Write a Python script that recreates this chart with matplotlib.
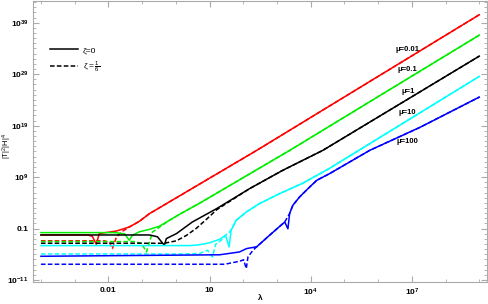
import numpy as np
import matplotlib
matplotlib.use("Agg")
import matplotlib.pyplot as plt

# log10(lambda), log10(|T|^2|H|^4), per mu and zeta
red_s_x = [-4.0, -2.62, -2.475, -2.36, -2.27, -1.76, -1.38, -1.08, -0.78, 2.40, 9.0]
red_s_y = [-2.24, -2.24, -2.50, -4.05, -1.97, -1.47, -0.69, 0.42, 1.91, 14.20, 40.55]
red_d_x = [-4.0, -2.12, -1.97, -1.88, -1.76, -1.58, -1.38, -1.08, -0.78, 2.40, 9.0]
red_d_y = [-3.37, -3.37, -3.66, -4.88, -2.63, -1.52, -0.69, 0.42, 1.91, 14.20, 40.55]

green_s_x = [-4.0, -1.82, -1.52, -1.38, -1.29, -1.08, -0.78, -0.49, -0.19, 0.11, 0.70, 3.38, 9.0]
green_s_y = [-1.78, -1.78, -2.01, -3.27, -2.30, -1.62, -1.14, -0.55, 0.61, 1.78, 3.91, 14.20, 36.59]
green_d_x = [-4.0, -1.23, -1.02, -0.87, -0.69, -0.49, -0.19, 0.11, 0.70, 3.38, 9.0]
green_d_y = [-3.52, -3.52, -3.85, -5.54, -1.66, -0.75, 0.61, 1.78, 3.91, 14.20, 36.59]

black_s_x = [-4.0, -0.78, -0.545, -0.34, -0.28, 0.02, 0.49, 1.21, 2.19, 3.17, 4.36, 9.0]
black_s_y = [-2.24, -2.24, -2.59, -4.24, -2.94, -1.97, 0.28, 2.88, 6.77, 10.32, 14.20, 32.51]
black_d_x = [-4.0, -0.34, 0.02, 0.32, 0.61, 0.91, 1.21, 2.19, 3.17, 4.36, 9.0]
black_d_y = [-3.85, -3.85, -3.37, -2.30, -0.94, 0.81, 2.65, 6.77, 10.32, 14.20, 32.51]

cyan_s_x = [-4.0, 0.41, 0.70, 1.00, 1.30, 1.475, 1.58, 1.64, 1.79, 2.09, 2.48, 3.08, 3.76, 4.56, 9.0]
cyan_s_y = [-4.30, -4.30, -4.15, -3.76, -3.08, -2.30, -4.57, -1.33, 0.61, 2.22, 3.85, 5.80, 7.80, 10.71, 28.57]
cyan_d_x = [-4.0, 0.11, 0.70, 0.94, 1.09, 1.18, 1.36, 1.475, 1.58, 1.64, 1.79, 2.09, 2.48, 3.08, 3.76, 4.56, 9.0]
cyan_d_y = [-5.93, -5.93, -5.85, -5.21, -6.51, -4.05, -3.18, -2.30, -1.72, -1.33, 0.61, 2.22, 3.85, 5.80, 7.80, 10.71, 28.57]

blue_s_x = [-4.0, 1.30, 1.89, 2.10, 2.40, 2.78, 3.23, 3.325, 3.375, 3.47, 3.67, 3.97, 4.18, 4.56, 5.75, 7.24, 9.0]
blue_s_y = [-6.38, -6.09, -5.54, -4.88, -4.53, -2.30, 0.28, -1.04, 1.91, 3.52, 5.14, 7.08, 8.38, 9.68, 14.20, 18.67, 24.55]
blue_d_x = [-4.0, 1.45, 1.89, 2.01, 2.09, 2.14, 2.29, 2.40, 2.78, 3.23, 3.375, 3.47, 3.67, 3.97, 4.18, 4.56, 5.75, 7.24, 9.0]
blue_d_y = [-7.93, -7.93, -7.35, -7.06, -8.77, -6.51, -5.21, -4.53, -2.30, 0.28, 1.91, 3.52, 5.14, 7.08, 8.38, 9.68, 14.20, 18.67, 24.55]

mu_labels = ["\u03bc=0.01", "\u03bc=0.1", "\u03bc=1", "\u03bc=10", "\u03bc=100"]
mu_label_y = [33.8, 29.9, 25.65, 21.6, 15.95]

xtick_pos = [1e-2, 1e1, 1e4, 1e7]
xtick_lab = ["0.01", "10", "$10^4$", "$10^7$"]
ytick_pos = [1e-11, 0.1, 1e9, 1e19, 1e29, 1e39]
ytick_lab = ["$10^{-11}$", "0.1", "$10^9$", "$10^{19}$", "$10^{29}$", "$10^{39}$"]

plt.rcParams['font.family'] = ['Liberation Sans', 'DejaVu Sans']
plt.rcParams['mathtext.default'] = 'regular'

fig = plt.figure(figsize=(4.88, 3.04), dpi=100)
ax = fig.add_axes([0.068, 0.072, 0.930, 0.926])

curves = [
    (red_s_x, red_s_y, red_d_x, red_d_y, 'red'),
    (green_s_x, green_s_y, green_d_x, green_d_y, '#00ee00'),
    (black_s_x, black_s_y, black_d_x, black_d_y, 'black'),
    (cyan_s_x, cyan_s_y, cyan_d_x, cyan_d_y, 'cyan'),
    (blue_s_x, blue_s_y, blue_d_x, blue_d_y, 'blue'),
]
for sx, sy, dx, dy, c in curves:
    ax.plot(10.0 ** np.array(sx), 10.0 ** np.array(sy), color=c, lw=1.1)
    ax.plot(10.0 ** np.array(dx), 10.0 ** np.array(dy), color=c, lw=1.1,
            dashes=(3.0, 1.5))

ax.set_xscale('log')
ax.set_yscale('log')
ax.set_xlim(10 ** -4.23, 10 ** 9.23)
ax.set_ylim(10 ** -11.4, 10 ** 43.3)

ax.set_xticks(xtick_pos, xtick_lab)
ax.set_xticks([10.0 ** k for k in range(-4, 10)], minor=True)
ax.set_yticks(ytick_pos, ytick_lab)
ax.set_yticks([10.0 ** k for k in range(-11, 44)], minor=True)
ax.tick_params(which='both', direction='in', top=True, right=True,
               labelsize=6, color='#aaaaaa')
ax.tick_params(which='major', length=4)
ax.tick_params(which='minor', length=2.5)
ax.xaxis.set_minor_formatter(plt.NullFormatter())
ax.yaxis.set_minor_formatter(plt.NullFormatter())
for lab in ax.get_xticklabels() + ax.get_yticklabels():
    lab.set_fontweight('bold')
for sp in ax.spines.values():
    sp.set_color('#aaaaaa')

# axis titles placed by hand, the frame leaves little room
fig.text(260 / 488, 1 - 298 / 304, '\u03bb', fontsize=6, fontweight='bold',
         ha='center', va='center')
fig.text(7 / 488, 1 - 146 / 304, '$|T|^2|H|^4$', fontsize=5.5, rotation=90,
         ha='center', va='center')

for lab, yv in zip(mu_labels, mu_label_y):
    ax.text(10 ** 6.88, 10 ** yv, lab, fontsize=5.5, fontweight='bold',
            ha='center', va='center')

ax.plot([], [], color='black', lw=1.1, label='\u03b6=0')
ax.plot([], [], color='black', lw=1.1, dashes=(3.0, 1.5), label=r'$\zeta=\frac{1}{6}$')
ax.legend(loc='upper left', bbox_to_anchor=(0.02, 0.865), frameon=False,
          fontsize=6, handlelength=3.4, labelspacing=0.7, handletextpad=0.6)

fig.savefig('out.png', dpi=100)
